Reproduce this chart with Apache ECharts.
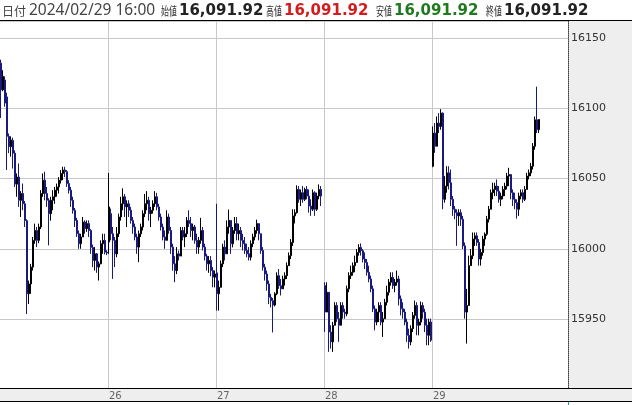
<!DOCTYPE html>
<html><head><meta charset="utf-8">
<script src="https://cdn.jsdelivr.net/npm/echarts@6/dist/echarts.min.js"></script>
<style>html,body{margin:0;padding:0;background:#fff;}#c{width:632px;height:405px;}</style>
</head><body><div id="c"></div>
<script>
// ---- data: [open, close, low, high] per candle, 54 candles per session ----
const dayLabels = ['23', '26', '27', '28', '29'];
const day23 = [
[16132,16113,16093,16134.5],[16113,16122.6,16112,16127],[16120,16103.6,16101,16122.6],[16108,16080,16056,16111],
[16080,16072.6,16068,16082],[16072.6,16077.4,16065.5,16080],[16077,16068,16057,16079],[16068,16046,16044,16070],
[16046,16051,16037,16053.6],[16051,16034.5,16029.8,16060.7],[16034.5,16039.3,16022.6,16041],[16039.3,16032,16027.4,16046.4],
[16032,16020,16015.5,16034],[16020,15968,15953.6,16021],[15968,15975,15960.7,15977.4],[15975,15987,15968,15989.3],
[15987,16006,15984.5,16008.4],[16006,16013,16003.6,16017.9],[16013,16006,16001.2,16015.5],[16006,16015.5,16004,16017.9],
[16015.5,16039.3,16014,16041.7],[16039.3,16048.8,16037,16053.6],[16048.8,16039.3,16034.5,16054.8],[16039.3,16034.5,16029.8,16044],
[16034.5,16025,16002.4,16036],[16025,16034.5,16020,16037],[16034.5,16037,16027.4,16041.7],[16037,16041.7,16032,16044],
[16041.7,16044,16037,16046.4],[16044,16048.8,16039.3,16051],[16048.8,16053.6,16046.4,16056],[16053.6,16056,16048.8,16058.3],
[16056,16054.8,16051,16058.3],[16054.8,16046.4,16044,16056],[16046.4,16041.7,16039.3,16048.8],[16041.7,16034.5,16029.8,16044],
[16034.5,16027.4,16025,16037],[16027.4,16020.2,16015.5,16029],[16020.2,16010.7,16008.4,16022],[16010.7,16003.6,16000,16013],
[16003.6,16008.4,16000,16010.7],[16008.4,16019,16008.4,16022.6],[16019,16014.3,16010.7,16020.2],[16014.3,16017.9,16012,16020.2],
[16017.9,16013,16008.4,16020.2],[16013,16001,15996.4,16014],[16001,15991.7,15987,16003],[15991.7,15996.4,15984.5,16001.2],
[15996.4,15987,15982.9,15997],[15987,15989.3,15977.4,15991],[15989.3,16003.6,15989,16006],[16003.6,16006,15996.4,16010.7],
[16006,15997.6,15996,16010.7],[15997.6,15997,15995.5,15999]
];
const day26 = [
[16004.8,16029.8,15996.4,16054],[16025,16010.7,16006,16028.6],[16010.7,16006,15978.6,16015.5],[16006,15996.4,15987,16008.4],
[15996.4,16010.7,15994,16015.5],[16010.7,16022.6,16008.4,16025],[16022.6,16032,16020,16037],[16032,16037,16027.4,16043],
[16037,16029.8,16022.6,16039],[16029.8,16032,16015.5,16034.5],[16032,16027.4,16022.6,16034.5],[16027.4,16020.2,16017.9,16029.8],
[16020.2,16015.5,16010.7,16022.6],[16015.5,16008.4,16006,16017.9],[16008.4,16001.2,15996.4,16010.7],[16001.2,16010.7,15990.5,16013],
[16010.7,16015.5,16008.4,16017.9],[16015.5,16025,16013,16027.4],[16025,16032,16022.6,16039],[16032,16034.5,16027.4,16041],
[16034.5,16025,16020,16037],[16025,16027.4,16015.5,16029.8],[16027.4,16032,16025,16034.5],[16032,16037,16029.8,16041],
[16037,16029.8,16027.4,16039.8],[16029.8,16022.6,16020,16032],[16022.6,16015.5,16013,16025],[16015.5,16008.4,16006,16017.9],
[16008.4,16006,16000,16013],[16006,16022.6,16006,16027.4],[16022.6,16013,16010.7,16025],[16013,16001.2,15996.4,16015.5],
[16001.2,15989.3,15984.5,16003.6],[15989.3,15984.5,15976.2,15994.8],[15984.5,15996.4,15982,16001.2],[15996.4,15994.8,15991.7,15998.8],
[15994.8,16013,15994.8,16015.5],[16013,16008.4,16006,16015.5],[16008.4,16010.7,16001.2,16015.5],[16010.7,16020.2,16008.4,16022.6],
[16020.2,16017.9,16015.5,16027.4],[16017.9,16013,16008.4,16022.6],[16013,16015.5,16006,16017.9],[16015.5,16006,16003.6,16017],
[16006,16001.2,15996.4,16010.7],[16001.2,16006,15996.4,16008.4],[16006,16013,16003.6,16022],[16013,16001.2,15998.8,16015.5],
[16001.2,15994.8,15991.7,16003.6],[15994.8,15989.3,15984.5,15996.4],[15989.3,15991.7,15982.9,15994.8],[15991.7,15984.5,15980.5,15994.8],
[15984.5,15979.8,15972.6,15987],[15979.8,15982.1,15972.6,15984.5]
];
const day27 = [
[15982.9,15968,15956,16032],[15968,15972.6,15956,15977.4],[15972.6,15989.3,15972.6,15991.7],[15989.3,16001.2,15987,16003.6],
[16001.2,15996.4,15991.7,16006],[15996.4,16015.5,15996.4,16020.2],[16015.5,16020.2,16010.7,16027.9],[16020.2,16003.6,15996.4,16020.2],
[16003.6,16013,16001,16015.5],[16013,16017.9,16010.7,16022.6],[16017.9,16010.7,16006,16022.6],[16010.7,16013,16006,16017.9],
[16013,16006,16001.2,16015.5],[16006,16003.6,15998.8,16010.7],[16003.6,15998.8,15996.4,16008.4],[15998.8,15996.4,15994,16003.6],
[15996.4,15994,15991.7,16001.2],[15994,16003.6,15991.7,16006],[16003.6,16008.4,16001.2,16010.7],[16008.4,16013,16006,16015.5],
[16013,16017.9,16010.7,16020.7],[16017.9,16010.7,16006,16017.9],[16010.7,15998.8,15996.4,16010.7],[15998.8,15986.9,15984.5,16001.2],
[15986.9,15982.1,15977.4,15989.3],[15982.1,15975,15970.2,15984.5],[15975,15965.5,15960.7,15977.4],[15965.5,15963.1,15958.3,15968],
[15963.1,15960,15940.5,15965],[15960,15968,15959,15969.1],[15968,15980.9,15967,15983.3],[15980.9,15973.8,15971.5,15985.6],
[15973.8,15971.5,15966.8,15978.5],[15971.5,15978.5,15971.5,15980.9],[15978.5,15980.9,15973.8,15983.3],[15980.9,15988,15978.5,15990.3],
[15988,15995.1,15988,15997.4],[15995.1,16004.5,15992.7,16006.9],[16004.5,16023.4,16002,16028.1],[16023.4,16025.7,16018,16028.1],
[16025.7,16042.2,16025,16045.1],[16042.2,16035.2,16032.8,16044.6],[16035.2,16039.9,16030.4,16042.2],[16039.9,16035.2,16032.8,16044.6],
[16035.2,16042.2,16034,16043.4],[16042.2,16037.5,16035.2,16044.6],[16037.5,16030.4,16025.7,16042.2],[16030.4,16028.1,16023.4,16035.2],
[16028.1,16039.9,16026.9,16042.2],[16039.9,16028.1,16023.4,16041],[16028.1,16037.5,16026.9,16039.9],[16037.5,16042.2,16035.2,16045.8],
[16042.2,16037.5,16030.4,16044.6],'-'
];
const day28 = [
[15973.8,15955,15940.8,15976.2],[15955,15969.1,15955,15976.2],[15969.1,15940.8,15926.7,15969.1],[15940.8,15933.8,15929,15945.6],
[15933.8,15945.6,15926.7,15948],[15945.6,15959.7,15945.6,15962],[15959.7,15950.3,15948,15962],[15950.3,15945.6,15933.8,15955],
[15945.6,15959.7,15945.6,15962],[15959.7,15955,15950.3,15962],[15955,15953.8,15950.3,15957.3],[15953.8,15971.5,15952,15973.8],
[15971.5,15980.9,15969.1,15983.3],[15980.9,15983.3,15978.5,15988],[15983.3,15988,15980.9,15990.3],[15988,15990.3,15983.3,15995.1],
[15990.3,15997.4,15990.3,15999.8],[15997.4,16001,15995.1,16003.3],[16001,15998.6,15995.1,16003.8],[15998.6,15992.7,15990.3,15999.8],
[15992.7,15990.3,15985.6,15997.4],[15990.3,15983.3,15980.9,15992.7],[15983.3,15978.5,15976.2,15988],[15978.5,15971.5,15969.1,15980.9],
[15971.5,15957.3,15955,15973.8],[15957.3,15947.9,15942,15959.7],[15947.9,15955,15945.6,15957.3],[15955,15959.7,15947.9,15962],
[15959.7,15947.9,15945.6,15962],[15947.9,15950.3,15937.3,15955],[15950.3,15962,15950.3,15964.4],[15962,15969.1,15959.7,15973.8],
[15969.1,15976.2,15966.8,15978.5],[15976.2,15979.7,15973.8,15983.3],[15979.7,15973.8,15971.5,15983.3],[15973.8,15976.2,15969.1,15978.5],
[15976.2,15978.5,15973.8,15984.5],[15978.5,15964.4,15959.7,15980.9],[15964.4,15957.3,15952.6,15966.8],[15957.3,15955,15950.3,15962],
[15955,15947.9,15945.6,15957.3],[15947.9,15938.5,15933.8,15950.3],[15938.5,15933.8,15929,15943.2],[15933.8,15943.2,15931.4,15945.6],
[15943.2,15952.6,15940.8,15955],[15952.6,15959.7,15950.3,15963.2],[15959.7,15945.6,15938.5,15962],[15945.6,15947.9,15938.5,15950.3],
[15947.9,15959.7,15945.6,15962.5],[15959.7,15955,15950.3,15962],[15955,15945.6,15940.8,15957.3],[15945.6,15938.5,15931.4,15950.3],
[15938.5,15947.9,15931.4,15950.3],[15947.9,15935,15933.8,15950.3]
];
const day29 = [
[16058.7,16082.3,16058,16087],[16082.3,16072.9,16068.2,16089.4],[16072.9,16089.4,16072.9,16094.1],[16089.4,16087,16082.3,16096.5],
[16087,16096.5,16084.7,16099.3],[16096.5,16035.2,16028.1,16097],[16035.2,16044.6,16032.8,16051.7],[16044.6,16054,16039.9,16058.7],
[16054,16047,16042.2,16058.7],[16047,16035.2,16030.4,16056.4],[16035.2,16028.1,16023.4,16037.5],[16028.1,16025.7,16021,16030.4],
[16025.7,16023.4,16002.1,16028.1],[16023.4,16025.7,16016.3,16028.1],[16025.7,16021,16016.3,16028.1],[16021,16002.1,15999.8,16023.4],
[16002.1,15955,15950.3,16004.5],[15955,15959.7,15932.6,15971.5],[15959.7,15988,15959.7,15995.1],[15988,15995.1,15988,15999.8],
[15995.1,16006.9,15992.7,16011.6],[16006.9,16009.2,16002.1,16011.6],[16009.2,16004.5,16002.1,16011.6],[16004.5,15992.7,15988,16006.9],
[15992.7,15997.4,15988,16000],[15997.4,16006.9,15995.1,16009.2],[16006.9,16010.4,16002.1,16011.6],[16010.4,16021,16009.2,16023.4],
[16021,16028.1,16018.7,16030.4],[16028.1,16039.9,16028.1,16042.2],[16039.9,16042.2,16035.2,16047],[16042.2,16044.6,16037.5,16047],
[16044.6,16041,16037.5,16049.3],[16041,16035.2,16032.8,16044.6],[16035.2,16037.5,16030.4,16039.9],[16037.5,16042.2,16035.2,16044.6],
[16042.2,16044.6,16037.5,16047],[16044.6,16051.7,16042.2,16054],[16051.7,16052.8,16044.6,16057.6],[16052.8,16039.9,16035.2,16053],
[16039.9,16035.2,16030.4,16042.2],[16035.2,16032.8,16028.1,16039.9],[16032.8,16028.1,16021.5,16035.2],[16028.1,16037.5,16023.4,16039.9],
[16037.5,16039.9,16035.2,16042.2],[16039.9,16035.2,16032.8,16042.2],[16035.2,16042.2,16034,16044.6],[16042.2,16051.7,16042.2,16054],
[16051.7,16054,16049.3,16056.4],[16054,16058.7,16051.7,16061.1],[16058.7,16072.9,16056.4,16075.2],[16072.9,16091.7,16070.5,16094.1],
[16091.7,16084.7,16082.3,16115.3],[16084.7,16091.92,16082.3,16092]
];
const sessions = [day23, day26, day27, day28, day29];
const candlesPerDay = 54;
const padCandles = 14;               // empty slots right of the last session
const lastTime = '2024/02/29 16:00';
const lastTick = { open: 16091.92, high: 16091.92, low: 16091.92, close: 16091.92 };
const yMin = 15901, yMax = 16162;

// ---- build category axis + series data ----
const cats = [], seriesData = [];
sessions.forEach((d, di) => {
  for (let k = 0; k < candlesPerDay; k++) {
    cats.push(dayLabels[di] + '-' + k);
    seriesData.push(d[k] === undefined ? '-' : d[k]);
  }
});
for (let i = 0; i < padCandles; i++) { cats.push('pad-' + i); seriesData.push('-'); }
const isDayStart = (idx) => idx > 0 && idx % candlesPerDay === 0 && idx < sessions.length * candlesPerDay;

const fmt = v => v.toLocaleString('en-US', { minimumFractionDigits: 2, maximumFractionDigits: 2 });
const numFont = 'bold 15px "DejaVu Sans"';
const jpFont = '12px "Noto Sans CJK JP"';
const hdrY = 11;
function hText(x, text, font, fill, sx) {
  return { type: 'text', x: x, y: hdrY, scaleX: sx || 1, silent: true, z: 20,
    style: { text: text, font: font, fill: fill, verticalAlign: 'middle', align: 'left' } };
}

const chart = echarts.init(document.getElementById('c'), null, { renderer: 'canvas' });
chart.setOption({
  animation: false,
  backgroundColor: '#ffffff',
  grid: { left: 0, right: 64, top: 21, bottom: 17, containLabel: false },
  xAxis: {
    type: 'category', data: cats, boundaryGap: true,
    axisLine: { show: false },
    axisTick: { show: false, interval: (i) => isDayStart(i) },
    axisLabel: {
      interval: (i) => isDayStart(i),
      formatter: (v) => v.split('-')[0],
      align: 'left', color: '#666', fontSize: 10, fontFamily: 'DejaVu Sans', margin: 3
    },
    splitLine: { show: true, interval: (i) => isDayStart(i), lineStyle: { color: '#c8c8c8', width: 1 } }
  },
  yAxis: {
    type: 'value', position: 'right', min: yMin, max: yMax, scale: true,
    axisLine: { show: true, lineStyle: { color: '#444', type: 'dotted', width: 1 } },
    axisTick: { show: false },
    axisLabel: { color: '#333', fontSize: 11, fontFamily: 'DejaVu Sans', margin: 3,
      formatter: (v) => (Math.abs(v % 50) < 1e-6 ? String(v) : '') },
    splitLine: { show: true, lineStyle: { color: '#c8c8c8', width: 1 } }
  },
  series: [{
    type: 'candlestick', data: seriesData, barWidth: 1.5,
    itemStyle: { color: '#000000', color0: '#1a1a7e', borderColor: '#000000', borderColor0: '#1a1a7e', borderWidth: 1 }
  }],
  graphic: [
    { type: 'rect', silent: true, z: -10, shape: { x: 568, y: 21, width: 64, height: 367 }, style: { fill: '#eeeeee' } },
    { type: 'rect', silent: true, z: -10, shape: { x: 0, y: 388, width: 632, height: 13 }, style: { fill: '#eeeeee' } },
    { type: 'line', silent: true, z: 20, shape: { x1: 0, y1: 20.5, x2: 632, y2: 20.5 }, style: { stroke: '#000', lineWidth: 1 } },
    { type: 'line', silent: true, z: 20, shape: { x1: 0, y1: 388.5, x2: 632, y2: 388.5 }, style: { stroke: '#000', lineWidth: 1 } },
    { type: 'line', silent: true, z: 20, shape: { x1: 0, y1: 401.5, x2: 632, y2: 401.5 }, style: { stroke: '#000', lineWidth: 1 } },
    { type: 'line', silent: true, z: 20, shape: { x1: 568.5, y1: 402, x2: 568.5, y2: 405 }, style: { stroke: '#2a9bb0', lineWidth: 1 } },
    hText(2, '日付', '12px "Noto Sans CJK JP"', '#444'),
    hText(29, lastTime, '15.5px "Noto Sans"', '#444'),
    hText(161, '始値', jpFont, '#333', 0.66),
    hText(179, fmt(lastTick.open), numFont, '#222'),
    hText(266, '高値', jpFont, '#333', 0.66),
    hText(284, fmt(lastTick.high), numFont, '#d41c1c'),
    hText(376, '安値', jpFont, '#333', 0.66),
    hText(394, fmt(lastTick.low), numFont, '#1f7a1f'),
    hText(486, '終値', jpFont, '#333', 0.66),
    hText(504, fmt(lastTick.close), numFont, '#222')
  ]
});
</script></body></html>
